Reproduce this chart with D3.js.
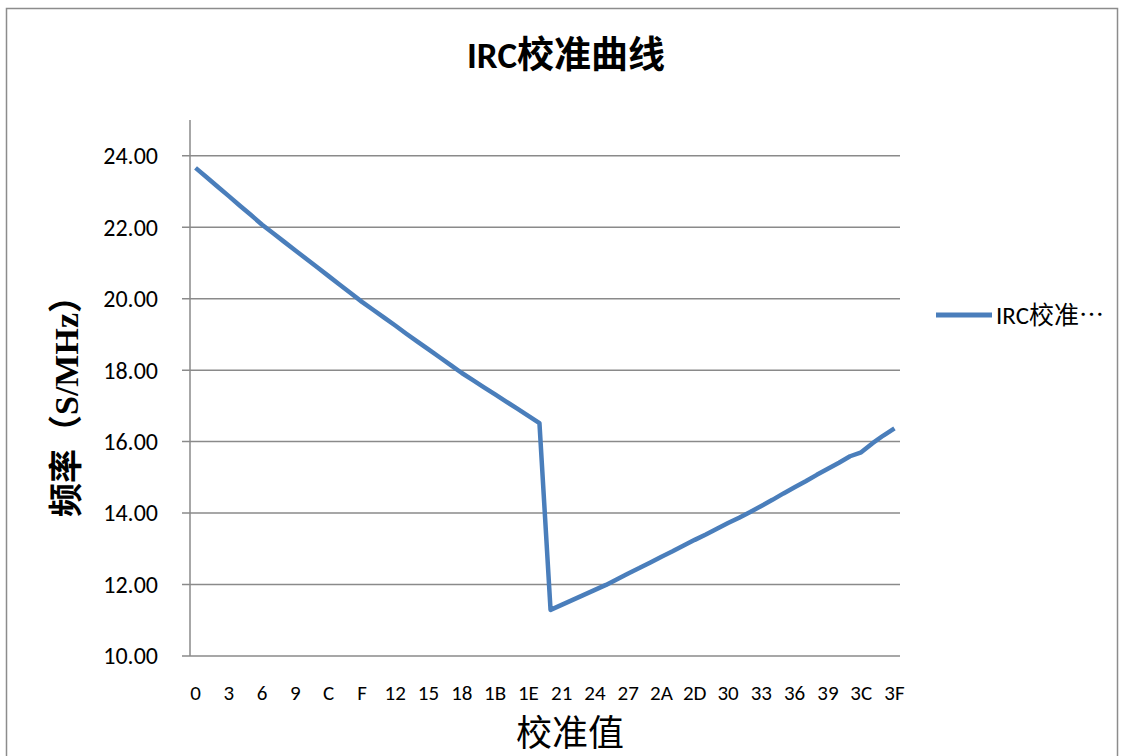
<!DOCTYPE html>
<html>
<head>
<meta charset="utf-8">
<script src="https://cdn.jsdelivr.net/npm/d3@7"></script>
<style>
  body { margin: 0; background: #fff; }
  svg { display: block; }
</style>
</head>
<body>
<div id="chart"></div>
<script>
// data
const codes = [
  "0","1","2","3","4","5","6","7","8","9","A","B","C","D","E","F",
  "10","11","12","13","14","15","16","17","18","19","1A","1B","1C","1D","1E","1F",
  "20","21","22","23","24","25","26","27","28","29","2A","2B","2C","2D","2E","2F",
  "30","31","32","33","34","35","36","37","38","39","3A","3B","3C","3D","3E","3F"
];
const freq = [
  23.66, 23.40, 23.13, 22.87, 22.60, 22.34, 22.07, 21.83,
  21.59, 21.35, 21.11, 20.87, 20.63, 20.39, 20.15, 19.91,
  19.69, 19.47, 19.25, 19.02, 18.80, 18.58, 18.36, 18.14,
  17.92, 17.72, 17.52, 17.32, 17.12, 16.92, 16.72, 16.52,
  11.29, 11.43, 11.57, 11.71, 11.85, 11.99, 12.15, 12.31,
  12.46, 12.62, 12.78, 12.93, 13.09, 13.25, 13.40, 13.56,
  13.72, 13.87, 14.03, 14.20, 14.37, 14.55, 14.72, 14.89,
  15.07, 15.24, 15.41, 15.59, 15.70, 15.95, 16.17, 16.37
];
const yTicks = [10, 12, 14, 16, 18, 20, 22, 24];
const xLabels = codes.filter((d, i) => i % 3 === 0);

const title = "IRC校准曲线";
const xTitle = "校准值";
const yTitle = "频率（S/MHz）";
const seriesName = "IRC校准⋯";

////////////////////////////////////////////////////////////////////
////////////////////////////  Init  ///////////////////////////////
const width = 1125;
const height = 756;
const plot = { left: 190, right: 900, top: 120, bottom: 656 };
const lineColor = "#4a7ebb";
const gridColor = "#8a8a8a";
const font = "Calibri, Lato, 'Noto Sans', 'Noto Sans CJK SC', sans-serif";

const svg = d3.select("#chart").append("svg")
  .attr("width", width)
  .attr("height", height);

// frame
svg.append("rect")
  .attr("x", 6.5).attr("y", 8.5)
  .attr("width", 1111).attr("height", 760)
  .attr("fill", "#fff")
  .attr("stroke", "#8c8c8c")
  .attr("stroke-width", 1.5);

// scales
const x = d3.scaleBand().domain(codes).range([plot.left, plot.right]);
const y = d3.scaleLinear().domain([10, 25]).range([plot.bottom, plot.top]);
const cx = (d) => x(d) + x.bandwidth() / 2;

// gridlines
svg.append("g")
  .selectAll("line")
  .data(yTicks)
  .join("line")
  .attr("x1", plot.left - 8)
  .attr("x2", plot.right)
  .attr("y1", (d) => y(d))
  .attr("y2", (d) => y(d))
  .attr("stroke", gridColor)
  .attr("stroke-width", 1.5);

// y axis line
svg.append("line")
  .attr("x1", plot.left).attr("x2", plot.left)
  .attr("y1", plot.top).attr("y2", plot.bottom)
  .attr("stroke", gridColor)
  .attr("stroke-width", 1.5);

// y tick labels
svg.append("g")
  .selectAll("text")
  .data(yTicks)
  .join("text")
  .attr("x", 158)
  .attr("y", (d) => y(d))
  .attr("dy", "0.35em")
  .attr("text-anchor", "end")
  .attr("font-family", font)
  .attr("font-size", 24)
  .attr("fill", "#000")
  .text((d) => d3.format(".2f")(d));

// x tick labels
svg.append("g")
  .selectAll("text")
  .data(xLabels)
  .join("text")
  .attr("x", (d) => cx(d))
  .attr("y", 700)
  .attr("text-anchor", "middle")
  .attr("font-family", font)
  .attr("font-size", 21)
  .attr("fill", "#000")
  .text((d) => d);

// line
const line = d3.line()
  .x((d, i) => cx(codes[i]))
  .y((d) => y(d));

svg.append("path")
  .datum(freq)
  .attr("d", line)
  .attr("fill", "none")
  .attr("stroke", lineColor)
  .attr("stroke-width", 4.5)
  .attr("stroke-linejoin", "round");

// title
svg.append("text")
  .attr("x", 566)
  .attr("y", 68)
  .attr("text-anchor", "middle")
  .attr("font-family", font)
  .attr("font-weight", "bold")
  .attr("font-size", 37)
  .text(title);

// x title
svg.append("text")
  .attr("x", 570)
  .attr("y", 746)
  .attr("text-anchor", "middle")
  .attr("font-family", "'Noto Sans CJK SC', sans-serif")
  .attr("font-size", 36)
  .text(xTitle);

// y title
svg.append("text")
  .attr("transform", "translate(78, 398) rotate(-90)")
  .attr("text-anchor", "middle")
  .attr("font-family", "'Liberation Serif', 'Noto Sans CJK SC', serif")
  .attr("font-weight", "bold")
  .attr("font-size", 34)
  .text(yTitle);

// legend
svg.append("line")
  .attr("x1", 936).attr("x2", 992)
  .attr("y1", 315).attr("y2", 315)
  .attr("stroke", lineColor)
  .attr("stroke-width", 5);

svg.append("text")
  .attr("x", 996)
  .attr("y", 324)
  .attr("font-family", font)
  .attr("font-size", 25)
  .text(seriesName);
</script>
</body>
</html>
